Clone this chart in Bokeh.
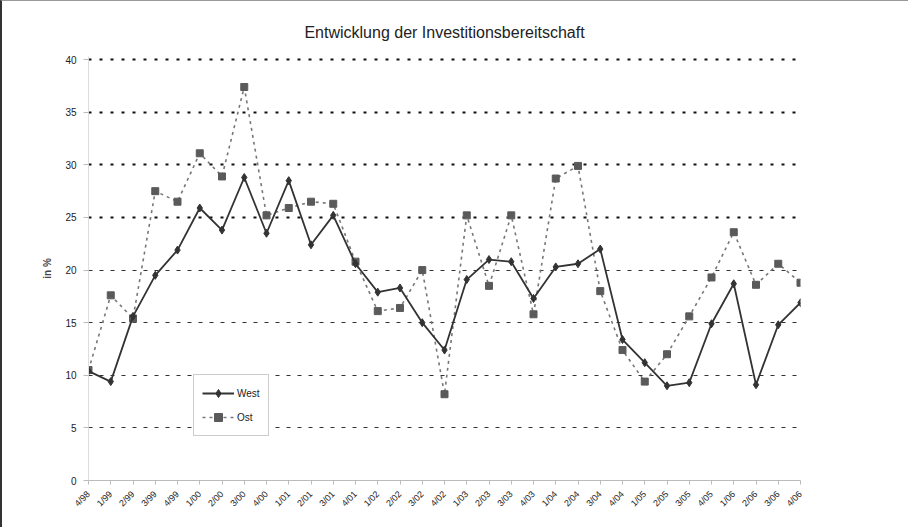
import math
from bokeh.plotting import figure
from bokeh.models import (FixedTicker, Grid, Legend, LegendItem, Range1d)
from bokeh.embed import file_html
from bokeh.resources import INLINE

quarters = ["4/98",
            "1/99", "2/99", "3/99", "4/99",
            "1/00", "2/00", "3/00", "4/00",
            "1/01", "2/01", "3/01", "4/01",
            "1/02", "2/02", "3/02", "4/02",
            "1/03", "2/03", "3/03", "4/03",
            "1/04", "2/04", "3/04", "4/04",
            "1/05", "2/05", "3/05", "4/05",
            "1/06", "2/06", "3/06", "4/06"]

west = [10.4, 9.4, 15.6, 19.5, 21.9,
        25.9, 23.8, 28.8, 23.5,
        28.5, 22.4, 25.2, 20.6,
        17.9, 18.3, 15.0, 12.4,
        19.1, 21.0, 20.8, 17.3,
        20.3, 20.6, 22.0, 13.4,
        11.2, 9.0, 9.3, 14.9,
        18.7, 9.1, 14.8, 16.9]

ost = [10.5, 17.6, 15.4, 27.5, 26.5,
       31.1, 28.9, 37.4, 25.2,
       25.9, 26.5, 26.3, 20.8,
       16.1, 16.4, 20.0, 8.2,
       25.2, 18.5, 25.2, 15.8,
       28.7, 29.9, 18.0, 12.4,
       9.4, 12.0, 15.6, 19.3,
       23.6, 18.6, 20.6, 18.8]

y_ticks = [0, 5, 10, 15, 20, 25, 30, 35, 40]
grid_upper = [25, 30, 35, 40]
grid_lower = [5, 10, 15, 20]
title_text = "Entwicklung der Investitionsbereitschaft"

xs = list(range(len(quarters)))

p = figure(width=908, height=527, output_backend="svg", toolbar_location=None,
           x_range=Range1d(0, len(quarters) - 1), y_range=Range1d(0, 40.3),
           min_border_left=86, min_border_right=110, min_border_top=55,
           min_border_bottom=48, title=title_text)
p.outline_line_color = None
p.background_fill_color = "white"
p.border_fill_color = "white"
p.xgrid.visible = False
p.ygrid.visible = False

p.title.align = "center"
p.title.text_font = "Liberation Sans"
p.title.text_font_size = "16px"
p.title.text_font_style = "normal"
p.title.text_color = "#222222"
p.title.standoff = 32

# grids
g1 = Grid(dimension=1, ticker=FixedTicker(ticks=grid_upper),
          grid_line_color="#111111", grid_line_width=2, grid_line_dash="3 8")
g2 = Grid(dimension=1, ticker=FixedTicker(ticks=grid_lower),
          grid_line_color="#333333", grid_line_width=1, grid_line_dash="4 7")
p.add_layout(g1)
p.add_layout(g2)

# axes
p.xaxis.ticker = FixedTicker(ticks=xs)
p.xaxis.major_label_overrides = {i: q for i, q in enumerate(quarters)}
p.xaxis.major_label_orientation = math.pi / 4
p.xaxis.major_label_text_font = "Liberation Sans"
p.xaxis.major_label_text_font_size = "9px"
p.xaxis.major_label_text_color = "#222222"
p.xaxis.axis_line_color = "#bbbbbb"
p.xaxis.major_tick_line_color = "#bbbbbb"
p.xaxis.major_tick_in = 0
p.xaxis.major_tick_out = 4
p.xaxis.minor_tick_line_color = None
p.xaxis.major_label_standoff = 8

p.yaxis.ticker = FixedTicker(ticks=y_ticks)
p.yaxis.major_label_text_font = "Liberation Sans"
p.yaxis.major_label_text_font_size = "10px"
p.yaxis.major_label_text_color = "#222222"
p.yaxis.axis_line_color = "#dddddd"
p.yaxis.major_tick_line_color = "#bbbbbb"
p.yaxis.major_tick_in = 0
p.yaxis.major_tick_out = 5
p.yaxis.minor_tick_line_color = None
p.yaxis.major_label_standoff = 7
p.yaxis.axis_label = "in %"
p.yaxis.axis_label_text_font = "Liberation Sans"
p.yaxis.axis_label_text_font_size = "10px"
p.yaxis.axis_label_text_font_style = "bold"
p.yaxis.axis_label_standoff = 9

# series
ost_line = p.line(xs, ost, line_color="#777777", line_width=1.6, line_dash="3 4")
ost_pts = p.scatter(xs, ost, marker="square", size=7, fill_color="#5a5a5a",
                    line_color="#5a5a5a")
west_line = p.line(xs, west, line_color="#333333", line_width=1.8)
west_pts = p.scatter(xs, west, marker="diamond", size=8, fill_color="#333333",
                     line_color="#333333")

legend = Legend(items=[LegendItem(label="West", renderers=[west_line, west_pts]),
                       LegendItem(label="Ost", renderers=[ost_line, ost_pts])],
                location=(105, 44))
legend.label_text_font = "Liberation Sans"
legend.label_text_font_size = "10px"
legend.label_text_color = "#222222"
legend.border_line_color = "#aaaaaa"
legend.border_line_alpha = 0.6
legend.background_fill_color = "white"
legend.background_fill_alpha = 1
legend.glyph_width = 32
legend.spacing = 4
legend.padding = 8
legend.label_standoff = 3
p.add_layout(legend)

p.styles = {"border-left": "2px solid #333333", "border-top": "1px solid #999999"}

open("out.html", "w").write(file_html(p, INLINE))
